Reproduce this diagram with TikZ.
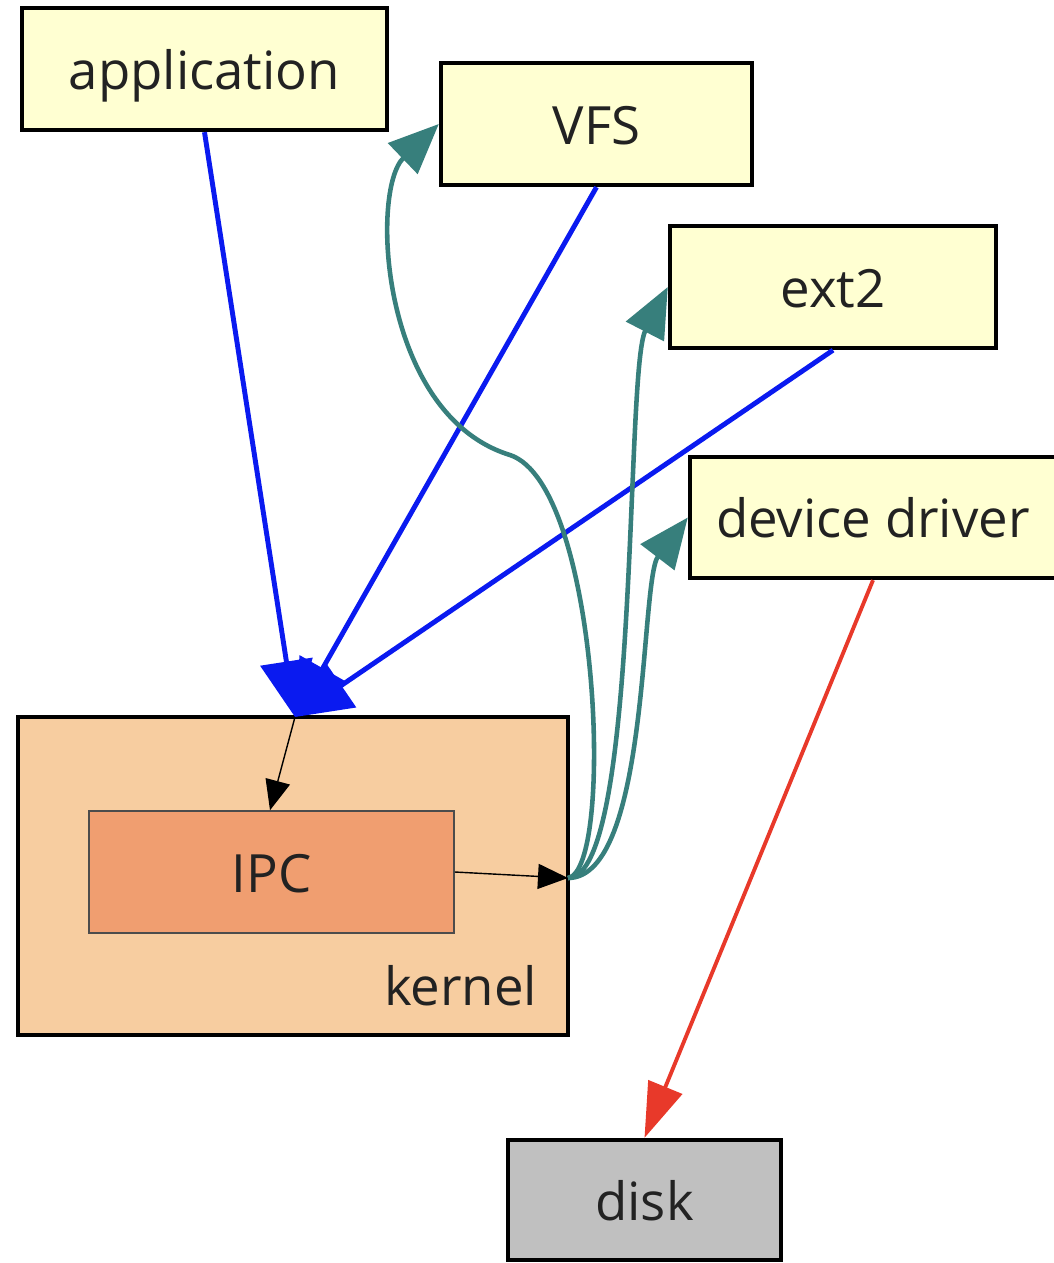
\documentclass[tikz,border=0pt]{standalone}
\usepackage{fontspec}
\setmainfont{Open Sans}
\usepackage{xcolor}
\definecolor{boxfill}{HTML}{FFFFD2}
\definecolor{kernelfill}{HTML}{F7CDA0}
\definecolor{ipcfill}{HTML}{F09E70}
\definecolor{diskfill}{HTML}{C0C0C0}
\definecolor{callblue}{HTML}{0A1AF0}
\definecolor{replyteal}{HTML}{377F7C}
\definecolor{iored}{HTML}{E8392A}
\definecolor{textgray}{HTML}{222222}
\usepackage{tikz}
\usetikzlibrary{arrows.meta}

\tikzset{
  comp/.style={draw=black, line width=1.2pt, fill=boxfill, inner sep=0pt, minimum height=1.22cm, text=textgray, font=\fontsize{15}{18}\selectfont, text height=0.42cm, text depth=0.02cm},
  call/.style={draw=callblue, line width=1.4pt, -{Triangle[length=0.56cm, width=0.52cm]}},
  reply/.style={draw=replyteal, line width=1.3pt, -{Triangle[length=0.5cm, width=0.42cm]}},
  io/.style={draw=iored, line width=1.1pt, -{Triangle[length=0.55cm, width=0.36cm]}},
  inner/.style={draw=black, line width=0.4pt, -{Triangle[length=0.3cm, width=0.25cm]}}
}

\begin{document}
\begin{tikzpicture}[x=0.01cm, y=-0.01cm]
  \useasboundingbox (0,0) rectangle (1053,1263);

  \node[comp, minimum width=3.65cm] (app) at (204.5,69) {application};
  \node[comp, minimum width=3.11cm] (vfs) at (596.5,124) {VFS};
  \node[comp, minimum width=3.26cm] (ext2) at (833,287) {ext2};
  \node[comp, minimum width=3.66cm, minimum height=1.21cm] (drv) at (873,517.5) {device driver};

  \node[draw=black, line width=1.2pt, fill=kernelfill, minimum width=5.5cm, minimum height=3.18cm] (kernel) at (293,876) {};
  \node[anchor=south east, inner sep=0pt, text=textgray, font=\fontsize{15}{18}\selectfont] (klabel) at (538,1007) {kernel};
  \node[draw=black!70, line width=0.4pt, fill=ipcfill, minimum width=3.65cm, minimum height=1.22cm, text=textgray, font=\fontsize{15}{18}\selectfont, text height=0.42cm, text depth=0.02cm] (ipc) at (271.5,872) {IPC};

  \node[comp, fill=diskfill, minimum width=2.73cm, minimum height=1.2cm] (disk) at (644.5,1200) {disk};

  \coordinate (kin) at (295,717);
  \coordinate (kout) at (568,878);

  \foreach \src in {app, vfs, ext2}
    \draw[call] (\src.south) -- (kin);

  \draw[inner] (kin) -- (ipc.north -| 270,0);
  \draw[inner] (ipc.east) -- (kout);

  \draw[reply] (kout) .. controls (615,870) and (600,485) .. (510,455)
    .. controls (380,415) and (370,190) .. (vfs.west);
  \draw[reply] (kout) .. controls (640,878) and (625,370) .. (ext2.west);
  \draw[reply] (kout) .. controls (650,878) and (640,580) .. (drv.west);

  \draw[io] (drv.south) -- (disk.north);
\end{tikzpicture}
\end{document}
